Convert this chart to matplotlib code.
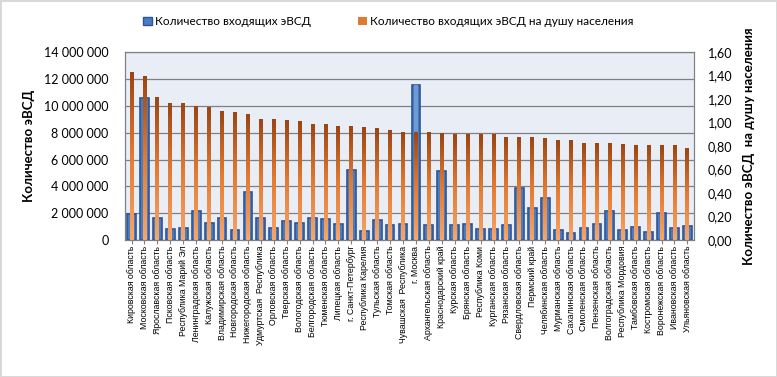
import numpy as np
import matplotlib.pyplot as plt
from matplotlib.patches import Patch
from matplotlib.ticker import FuncFormatter

regions = [
    "Кировская область", "Московская область", "Ярославская область",
    "Псковская область", "Республика Марий Эл", "Ленинградская область",
    "Калужская область", "Владимирская область", "Новгородская область",
    "Нижегородская область", "Удмуртская  Республика", "Орловская область",
    "Тверская область", "Вологодская область", "Белгородская область",
    "Тюменская область", "Липецкая область", "г. Санкт-Петербург",
    "Республика Карелия", "Тульская область", "Томская область",
    "Чувашская  Республика", "г. Москва", "Архангельская область",
    "Краснодарский край", "Курская область", "Брянская область",
    "Республика Коми", "Курганская область", "Рязанская область",
    "Свердловская область", "Пермский край", "Челябинская область",
    "Мурманская область", "Сахалинская область", "Смоленская область",
    "Пензенская область", "Волгоградская область", "Республика Мордовия",
    "Тамбовская область", "Костромская область", "Воронежская область",
    "Ивановская область", "Ульяновская область",
]
counts = [
    1960000, 10570000, 1660000, 840000, 920000, 2180000, 1290000, 1660000,
    770000, 3600000, 1660000, 920000, 1440000, 1290000, 1660000, 1590000,
    1210000, 5210000, 690000, 1510000, 1140000, 1210000, 11540000, 1140000,
    5140000, 1140000, 1210000, 840000, 840000, 1140000, 3890000, 2410000,
    3150000, 740000, 540000, 920000, 1210000, 2180000, 740000, 990000,
    620000, 2030000, 920000, 1060000,
]
per_capita = [
    1.43, 1.40, 1.22, 1.17, 1.17, 1.14, 1.13, 1.10, 1.09, 1.07, 1.03, 1.03,
    1.02, 1.01, 0.99, 0.99, 0.97, 0.97, 0.96, 0.95, 0.94, 0.92, 0.92, 0.92,
    0.91, 0.90, 0.90, 0.90, 0.90, 0.88, 0.88, 0.88, 0.87, 0.85, 0.85, 0.83,
    0.83, 0.83, 0.82, 0.81, 0.81, 0.81, 0.81, 0.78,
]

plt.rcParams["font.family"] = ["Lato", "DejaVu Sans"]

fig = plt.figure(figsize=(7.77, 3.77), dpi=100)
fig.patch.set_edgecolor("#D9D9D9")
fig.patch.set_linewidth(1.0)
ax = fig.add_axes([0.161, 0.363, 0.732, 0.499])
ax.set_facecolor("#E9EDF6")

x = np.arange(len(regions))
ax.bar(x, counts, width=0.68, color="#4A7CC0", edgecolor="#2F5597",
       linewidth=1.2, zorder=2)
ax.bar(x, counts, width=0.3, color="#6E9BD6", linewidth=0, zorder=2.1)
ax.set_ylim(0, 14000000)
ax.set_yticks(np.arange(0, 14000001, 2000000))
ax.yaxis.set_major_formatter(
    FuncFormatter(lambda v, p: f"{int(v):,}".replace(",", " ")))
ax.grid(axis="y", color="#808080", linewidth=0.9, zorder=0)
ax.set_axisbelow(True)
ax.set_xlim(-0.5, len(regions) - 0.5)
ax.set_xticks(x)
ax.set_xticklabels(regions, rotation=90, fontsize=6.3,
                   family=["Liberation Sans", "DejaVu Sans"])
ax.tick_params(axis="x", length=3, color="#808080", pad=1)
ax.tick_params(axis="y", length=0, labelsize=9, pad=12)
for s in ax.spines.values():
    s.set_color("#808080")
ax.set_ylabel("Количество эВСД", fontsize=9.5, fontweight="bold", labelpad=6)

ax2 = ax.twinx()
ax2.set_ylim(0, 1.6)
ax2.set_yticks(np.arange(0, 1.61, 0.2))
ax2.yaxis.set_major_formatter(FuncFormatter(lambda v, p: f"{v:.2f}".replace(".", ",")))
ax2.tick_params(axis="y", length=0, labelsize=9, pad=10)
for s in ax2.spines.values():
    s.set_color("#808080")
ax2.set_ylabel("Количество эВСД  на душу населения", fontsize=9.5,
               fontweight="bold", labelpad=8)

# orange bars with a vertical gradient (dark at top, light at bottom)
bars = ax2.bar(x, per_capita, width=0.3, color="none", linewidth=0, zorder=3)
grad = np.linspace(0, 1, 100).reshape(-1, 1)
from matplotlib.colors import LinearSegmentedColormap
cmap = LinearSegmentedColormap.from_list("og", ["#F6A66A", "#E57A30", "#9A4513"])
for b in bars:
    x0, w, h = b.get_x(), b.get_width(), b.get_height()
    im = ax2.imshow(grad, extent=(x0, x0 + w, 0, h), origin="lower",
                    cmap=cmap, aspect="auto", zorder=3)
    im.set_clip_path(b)
ax2.set_xlim(-0.5, len(regions) - 0.5)
ax2.set_ylim(0, 1.6)

handles = [Patch(facecolor="#4A7CC0", edgecolor="#2F5597"),
           Patch(facecolor="#E07A30")]
fig.legend(handles, ["Количество входящих эВСД",
                     "Количество входящих эВСД на душу населения"],
           loc="upper center", bbox_to_anchor=(0.5, 0.985), ncol=2,
           frameon=False, fontsize=8.5, handlelength=0.7, handleheight=0.7,
           handletextpad=0.3, columnspacing=4)

fig.savefig("out.png", dpi=100, edgecolor=fig.get_edgecolor())
